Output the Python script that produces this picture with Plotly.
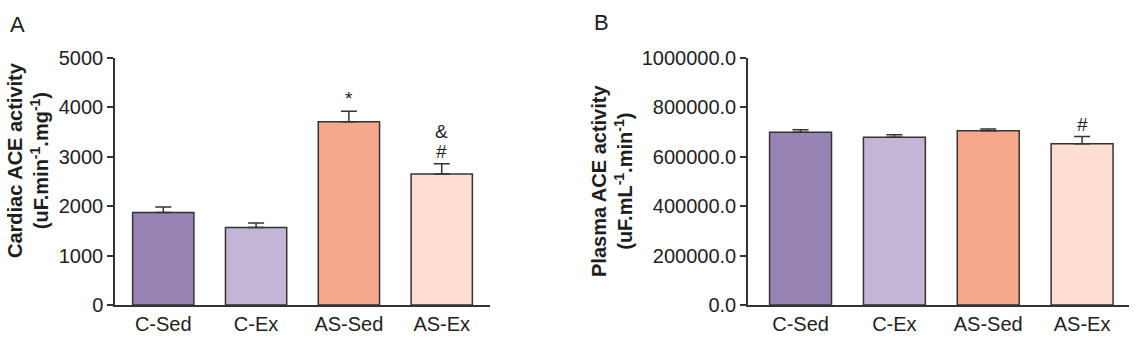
import plotly.graph_objects as go

categories = ["C-Sed", "C-Ex", "AS-Sed", "AS-Ex"]
colors = ["#9784B4", "#C4B4D5", "#F5A88B", "#FDDED1"]

cardiac_mean = [1870, 1570, 3710, 2650]
cardiac_err = [115, 90, 210, 210]
cardiac_marks = ["", "", "*", "#"]
cardiac_marks2 = ["", "", "", "&"]

plasma_mean = [699000, 679000, 705000, 653000]
plasma_err = [11000, 10000, 8000, 29000]
plasma_marks = ["", "", "", "#"]

yticks_a = [0, 1000, 2000, 3000, 4000, 5000]
yticks_b = [0, 200000, 400000, 600000, 800000, 1000000]

title_a = "<b>Cardiac ACE activity<br>(uF.min<sup>-1</sup>.mg<sup>-1</sup>)</b>"
title_b = "<b>Plasma ACE activity<br>(uF.mL<sup>-1</sup>.min<sup>-1</sup>)</b>"

FONT = "Liberation Sans, Arial, sans-serif"
LINE = "#333333"
TXT = "#1e1e1e"

fig = go.Figure()

def add_bars(xaxis, yaxis, means, errs):
    fig.add_trace(go.Bar(
        x=categories, y=means, width=0.66,
        marker=dict(color=colors, line=dict(color=LINE, width=1.5)),
        error_y=dict(type="data", array=errs, arrayminus=[0]*len(errs), symmetric=False,
                     color=LINE, thickness=1.5, width=8),
        xaxis=xaxis, yaxis=yaxis, showlegend=False, hoverinfo="skip",
    ))

add_bars("x", "y", cardiac_mean, cardiac_err)
add_bars("x2", "y2", plasma_mean, plasma_err)

W, H = 1138, 346

ann = []
for c, m, e, t, t2 in zip(categories, cardiac_mean, cardiac_err, cardiac_marks, cardiac_marks2):
    if t:
        ann.append(dict(x=c, y=m + e, xref="x", yref="y", text=t, showarrow=False,
                        yanchor="bottom", yshift=0, font=dict(size=19, color=TXT, family=FONT)))
    if t2:
        ann.append(dict(x=c, y=m + e, xref="x", yref="y", text=t2, showarrow=False,
                        yanchor="bottom", yshift=20, font=dict(size=19, color=TXT, family=FONT)))
for c, m, e, t in zip(categories, plasma_mean, plasma_err, plasma_marks):
    if t:
        ann.append(dict(x=c, y=m + e, xref="x2", yref="y2", text=t, showarrow=False,
                        yanchor="bottom", yshift=0, font=dict(size=19, color=TXT, family=FONT)))

ann.append(dict(x=17 / W, y=1 - 25 / H, xref="paper", yref="paper", text="A", showarrow=False,
                xanchor="center", yanchor="middle", font=dict(size=22, color=TXT, family=FONT)))
ann.append(dict(x=601 / W, y=1 - 22 / H, xref="paper", yref="paper", text="B", showarrow=False,
                xanchor="center", yanchor="middle", font=dict(size=22, color=TXT, family=FONT)))
ann.append(dict(x=28 / W, y=1 - 160 / H, xref="paper", yref="paper", text=title_a, showarrow=False,
                textangle=-90, xanchor="center", yanchor="middle",
                font=dict(size=20, color=TXT, family=FONT)))
ann.append(dict(x=612 / W, y=1 - 181 / H, xref="paper", yref="paper", text=title_b, showarrow=False,
                textangle=-90, xanchor="center", yanchor="middle",
                font=dict(size=20, color=TXT, family=FONT)))

ydom = [(H - 305) / H, (H - 58) / H]

xaxis_common = dict(showline=True, linecolor=LINE, linewidth=1.5, ticks="", showgrid=False,
                    zeroline=False, automargin=False,
                    tickfont=dict(size=20, color=TXT, family=FONT))
yaxis_common = dict(showline=True, linecolor=LINE, linewidth=1.5, ticks="outside", ticklen=6,
                    tickcolor=LINE, tickwidth=1.5, showgrid=False, zeroline=False, automargin=False,
                    tickfont=dict(size=20, color=TXT, family=FONT), domain=ydom)

fig.update_layout(
    width=W, height=H,
    margin=dict(l=0, r=0, t=0, b=0),
    paper_bgcolor="white", plot_bgcolor="white",
    font=dict(family=FONT, color=TXT),
    xaxis=dict(xaxis_common, domain=[115 / W, 490 / W], anchor="y", range=[-0.52, 3.52]),
    xaxis2=dict(xaxis_common, domain=[748 / W, 1129 / W], anchor="y2", range=[-0.56, 3.5]),
    yaxis=dict(yaxis_common, range=[0, 5000], tickvals=yticks_a, anchor="x"),
    yaxis2=dict(yaxis_common, range=[0, 1000000], tickvals=yticks_b, tickformat=".1f", anchor="x2"),
    annotations=ann,
)

fig.write_html("out.html")
